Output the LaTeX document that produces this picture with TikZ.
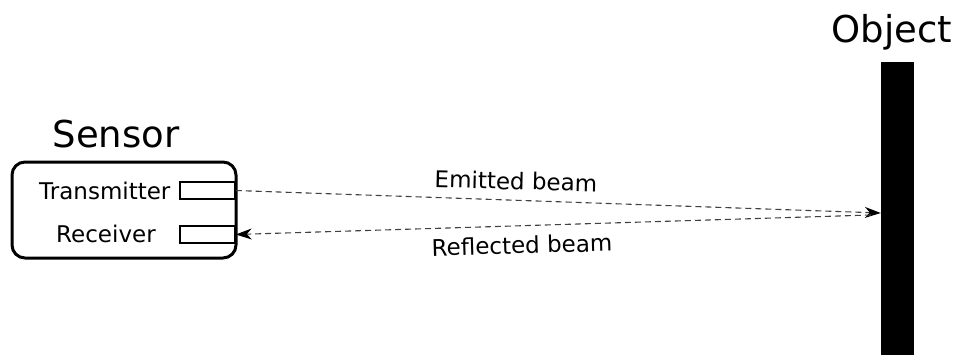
\documentclass[tikz,border=0pt]{standalone}
\usepackage{fontspec}
\setmainfont{DejaVu Sans}
\usetikzlibrary{arrows.meta}
\begin{document}
\begin{tikzpicture}[x=1pt,y=-1pt,
  lbl/.style={inner sep=0pt,font=\fontsize{23}{27}\selectfont},
  title/.style={inner sep=0pt,font=\fontsize{37}{44}\selectfont},
  port/.style={draw,line width=1.5pt,minimum width=55pt,minimum height=17pt,inner sep=0pt},
  beam/.style={draw=black!75,line width=1.1pt,dash pattern=on 6pt off 4pt,
    -{Stealth[length=16pt,width=11pt,inset=5pt,black]}}]
  \useasboundingbox (0,0) rectangle (957,354);

  % sensor housing
  \draw[line width=3pt,rounded corners=13pt] (12,162) rectangle (236,258);
  \node[title,anchor=base] (sensor) at (116,147) {Sensor};
  \node[lbl,anchor=base west] (txlbl) at (39,199) {Transmitter};
  \node[lbl,anchor=base west] (rxlbl) at (56,242) {Receiver};
  \node[port] (tx) at (207.5,190.5) {};
  \node[port] (rx) at (207.5,234.5) {};

  % target object
  \node[fill=black,inner sep=0pt,minimum width=33pt,minimum height=294pt] (obj) at (897.5,209) {};
  \node[title,anchor=base] (objlbl) at (892,42) {Object};

  % beams
  \coordinate (hitin) at (obj.west |- 0,213);
  \coordinate (hitout) at ([xshift=-10pt]obj.west |- 0,215);
  \draw[beam] (tx.east) -- (hitin);
  \draw[beam] (hitout) -- (rx.east);
  \node[lbl,rotate=-1.4] (emit) at (516,181) {Emitted beam};
  \node[lbl,rotate=1.6] (refl) at (522,245) {Reflected beam};
\end{tikzpicture}
\end{document}
